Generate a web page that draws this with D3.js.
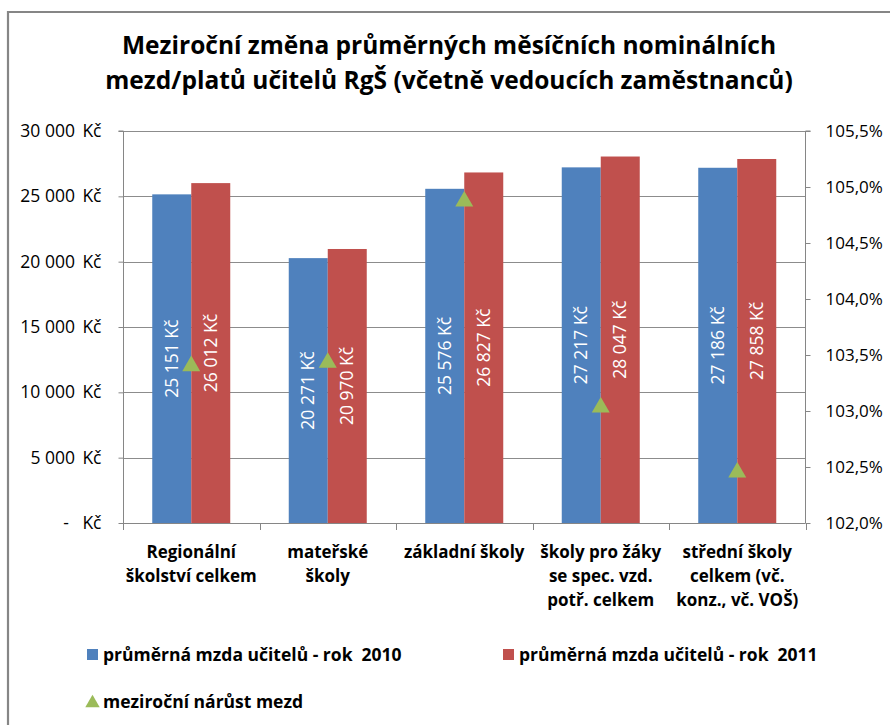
<!DOCTYPE html>
<html>
<head>
<meta charset="utf-8">
<script src="https://cdn.jsdelivr.net/npm/d3@7"></script>
<style>
  html, body { margin: 0; padding: 0; background: #fff; }
  svg { display: block; font-family: "Open Sans", sans-serif; }
  .pre { white-space: pre; }
</style>
</head>
<body>
<svg id="chart" width="890" height="725"></svg>
<script>
// ---- data ----
const categories = [
  ["Regionální", "školství celkem"],
  ["mateřské", "školy"],
  ["základní školy"],
  ["školy pro žáky", "se spec. vzd.", "potř. celkem"],
  ["střední školy", "celkem (vč.", "konz., vč. VOŠ)"]
];
const categoryKeys = ["reg", "ms", "zs", "spec", "ss"];
const wage2010 = [25151, 20271, 25576, 27217, 27186];
const wage2011 = [26012, 20970, 26827, 28047, 27858];
const growthPct = [103.42, 103.45, 104.89, 103.05, 102.47];
const leftTicks = [0, 5000, 10000, 15000, 20000, 25000, 30000];
const rightTicks = [102.0, 102.5, 103.0, 103.5, 104.0, 104.5, 105.0, 105.5];
const seriesNames = ["průměrná mzda učitelů - rok  2010", "průměrná mzda učitelů - rok  2011", "meziroční nárůst mezd"];
const titleLines = ["Meziroční změna průměrných měsíčních nominálních", "mezd/platů učitelů RgŠ (včetně vedoucích zaměstnanců)"];

const colors = { blue: "#4F81BD", red: "#C0504D", green: "#9BBB59", axis: "#868686", grid: "#8c8c8c" };

const svg = d3.select("#chart");
svg.append("rect").attr("width", 890).attr("height", 725).attr("fill", "#fff");

// outer border
svg.append("path").attr("d", "M8,725 L8,12 L890,12").attr("fill", "none")
  .attr("stroke", colors.axis).attr("stroke-width", 2.2);

// title
svg.append("g").selectAll("text").data(titleLines).join("text")
  .attr("x", 449).attr("y", (d, i) => 54 + i * 35)
  .attr("text-anchor", "middle").attr("font-weight", "bold")
  .attr("font-size", 24.5).attr("fill", "#000").text(d => d);

const plot = { left: 123, right: 805.5, top: 131, bottom: 523 };

const x = d3.scaleBand().domain(categoryKeys).range([plot.left, plot.right]).padding(0);
const groupW = 78;
const x1 = d3.scaleBand().domain(["2010", "2011"])
  .range([(x.bandwidth() - groupW) / 2, (x.bandwidth() + groupW) / 2]).padding(0);
const y = d3.scaleLinear().domain([0, 30000]).range([plot.bottom, plot.top]);
const y2 = d3.scaleLinear().domain([102, 105.5]).range([plot.bottom, plot.top]);

// gridlines
svg.append("g").selectAll("line").data(leftTicks.filter(t => t > 0)).join("line")
  .attr("x1", plot.left).attr("x2", plot.right)
  .attr("y1", d => Math.round(y(d)) + 0.5).attr("y2", d => Math.round(y(d)) + 0.5)
  .attr("stroke", colors.grid).attr("stroke-width", 1);

// bars
const fmt = v => d3.format(",")(v).replace(/,/g, "\u00a0") + "\u00a0Kč";
const fmtAxis = v => d3.format(",")(v).replace(/,/g, "\u00a0") + "\u00a0\u2009Kč";
const barData = [];
categoryKeys.forEach((k, i) => {
  barData.push({ k, s: "2010", v: wage2010[i], c: colors.blue });
  barData.push({ k, s: "2011", v: wage2011[i], c: colors.red });
});
svg.append("g").selectAll("rect").data(barData).join("rect")
  .attr("x", d => x(d.k) + x1(d.s)).attr("width", x1.bandwidth())
  .attr("y", d => y(d.v)).attr("height", d => y(0) - y(d.v))
  .attr("fill", d => d.c);

// left axis
const leftAxis = d3.axisLeft(y).tickValues(leftTicks).tickSize(5).tickPadding(17)
  .tickFormat(d => d === 0 ? "-\u00a0\u00a0\u00a0Kč" : fmtAxis(d));
const gL = svg.append("g").attr("transform", `translate(${plot.left + 0.5},0)`).call(leftAxis);
gL.select(".domain").attr("stroke", colors.axis).attr("d", `M-5,${plot.top}H0V${plot.bottom}`);
gL.selectAll(".tick line").attr("stroke", colors.axis);
gL.selectAll(".tick text").attr("font-size", 17.5).attr("fill", "#000")
  .attr("font-family", "'Open Sans', sans-serif");

// right axis
const rightAxis = d3.axisRight(y2).tickValues(rightTicks).tickSize(5).tickPadding(15)
  .tickFormat(d => d3.format(".1f")(d).replace(".", ",") + "%");
const gR = svg.append("g").attr("transform", `translate(${plot.right},0)`).call(rightAxis);
gR.select(".domain").attr("stroke", colors.axis).attr("d", `M5,${plot.top}H0V${plot.bottom}`);
gR.selectAll(".tick line").attr("stroke", colors.axis);
gR.selectAll(".tick text").attr("font-size", 17).attr("fill", "#000")
  .attr("font-family", "'Open Sans', sans-serif");

// bottom axis line + separators
svg.append("line").attr("x1", plot.left).attr("x2", plot.right)
  .attr("y1", plot.bottom + 0.5).attr("y2", plot.bottom + 0.5).attr("stroke", colors.axis);
const bounds = categoryKeys.map(k => x(k)).concat([plot.right]);
svg.append("g").selectAll("line").data(bounds).join("line")
  .attr("x1", d => Math.round(d) + 0.5).attr("x2", d => Math.round(d) + 0.5)
  .attr("y1", plot.bottom).attr("y2", plot.bottom + 7).attr("stroke", colors.axis);

// category labels
const catG = svg.append("g").selectAll("g").data(categories).join("g")
  .attr("transform", (d, i) => `translate(${x(categoryKeys[i]) + x.bandwidth() / 2},0)`);
catG.selectAll("text").data(d => d).join("text")
  .attr("x", 0).attr("y", (d, j) => 558 + j * 24)
  .attr("text-anchor", "middle").attr("font-weight", "bold").attr("font-size", 17)
  .attr("fill", "#000").text(d => d);

// bar value labels (rotated, centered)
svg.append("g").selectAll("text").data(barData).join("text")
  .attr("transform", d => `translate(${x(d.k) + x1(d.s) + x1.bandwidth() / 2},${(y(d.v) + y(0)) / 2}) rotate(-90)`)
  .attr("text-anchor", "middle").attr("dy", "0.35em")
  .attr("font-size", 17.5).attr("fill", "#fff").text(d => fmt(d.v));

// growth markers
const tri = d3.symbol().type(d3.symbolTriangle).size(140);
svg.append("g").selectAll("path").data(growthPct).join("path")
  .attr("transform", (d, i) => `translate(${x(categoryKeys[i]) + x.bandwidth() / 2},${y2(d) + 2})`)
  .attr("d", tri).attr("fill", colors.green);

// legend
const leg = svg.append("g");
leg.append("rect").attr("x", 87).attr("y", 649).attr("width", 11).attr("height", 11).attr("fill", colors.blue);
leg.append("text").attr("class", "pre").attr("x", 103).attr("y", 661).attr("font-weight", "bold").attr("font-size", 17.5).text(seriesNames[0]);
leg.append("rect").attr("x", 503).attr("y", 649).attr("width", 11).attr("height", 11).attr("fill", colors.red);
leg.append("text").attr("class", "pre").attr("x", 519).attr("y", 661).attr("font-weight", "bold").attr("font-size", 17.5).text(seriesNames[1]);
leg.append("path").attr("transform", "translate(92.5,703)").attr("d", d3.symbol().type(d3.symbolTriangle).size(90)).attr("fill", colors.green);
leg.append("text").attr("class", "pre").attr("x", 103).attr("y", 708).attr("font-weight", "bold").attr("font-size", 17.5).text(seriesNames[2]);
</script>
</body>
</html>
